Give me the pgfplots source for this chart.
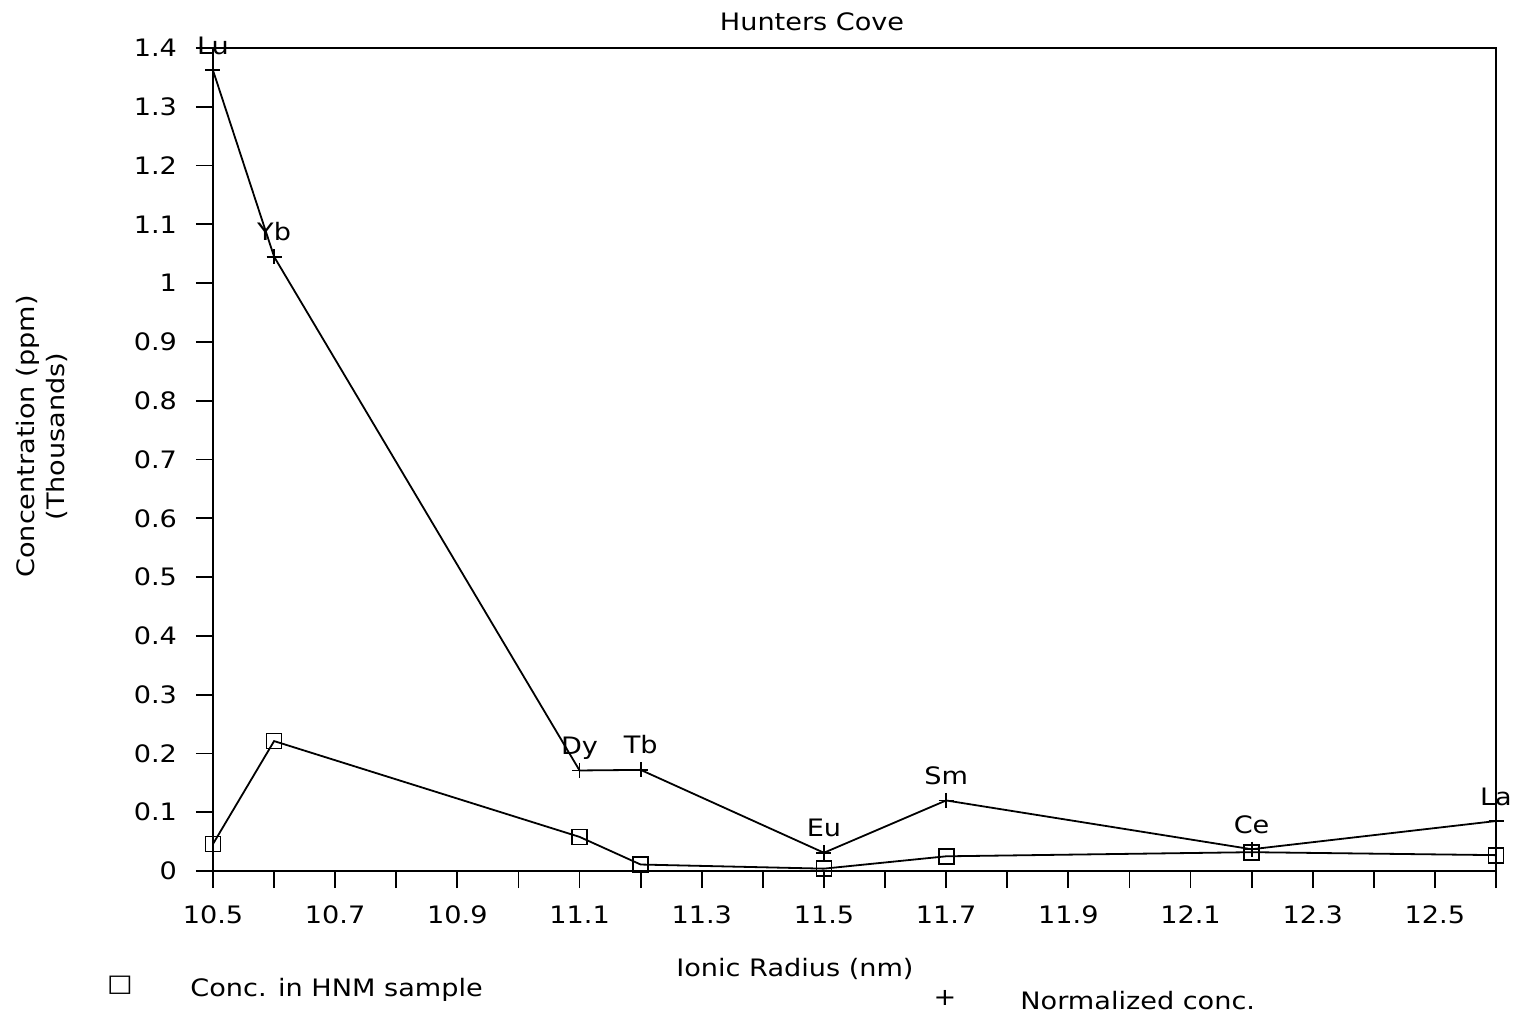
\documentclass[border=0pt]{standalone}
\usepackage{fontspec}
\setmainfont{DejaVu Sans}[FakeStretch=1.13]
\usepackage{pgfplots}
\pgfplotsset{compat=1.18}
\usepackage{pgfplotstable}

% Concentration in the HNM sample (thousands of ppm)
\pgfplotstableread{
x    y
10.5 0.046
10.6 0.221
11.1 0.058
11.2 0.011
11.5 0.004
11.7 0.025
12.2 0.032
12.6 0.027
}\hnmdata

% Normalized concentration, labelled by element
\pgfplotstableread{
x    y     lab
10.5 1.362 Lu
10.6 1.045 Yb
11.1 0.171 Dy
11.2 0.172 Tb
11.5 0.031 Eu
11.7 0.120 Sm
12.2 0.037 Ce
12.6 0.085 La
}\normdata

\begin{document}
\begin{tikzpicture}[font=\fontsize{12}{15}\selectfont]
\useasboundingbox (-106.5pt,-75.5pt) rectangle (651pt,435.5pt);
\begin{axis}[
  at={(0pt,0pt)}, anchor=south west,
  scale only axis, width=641.5pt, height=411.5pt,
  xmin=10.5, xmax=12.6, ymin=0, ymax=1.4,
  clip=false,
  axis line style={line width=0.9pt},
  tick style={line width=0.9pt, black},
  tick align=outside, tick pos=left,
  major tick length=8.5pt, minor tick length=8.5pt,
  xtick={10.5,10.7,10.9,11.1,11.3,11.5,11.7,11.9,12.1,12.3,12.5},
  minor xtick={10.6,10.8,11.0,11.2,11.4,11.6,11.8,12.0,12.2,12.4,12.6},
  xticklabels={10.5,10.7,10.9,11.1,11.3,11.5,11.7,11.9,12.1,12.3,12.5},
  ytick={0,0.1,0.2,0.3,0.4,0.5,0.6,0.7,0.8,0.9,1,1.1,1.2,1.3,1.4},
  yticklabels={0,0.1,0.2,0.3,0.4,0.5,0.6,0.7,0.8,0.9,1,1.1,1.2,1.3,1.4},
  xticklabel style={yshift=-5.5pt},
  yticklabel style={xshift=-6pt},
  title={Hunters Cove},
  title style={at={(axis description cs:0.4669,1)}, anchor=center, yshift=7pt},
  xlabel={Ionic Radius (nm)},
  xlabel style={at={(axis description cs:0.4536,0)}, anchor=center, yshift=-49pt},
  ylabel={Concentration (ppm)\\(Thousands)},
  ylabel style={at={(axis description cs:-0.1333,0.528)}, anchor=center, align=center},
]
\addplot[black, line width=0.9pt, mark=square, mark size=3.75pt,
  mark options={solid, fill=white}]
  table[x=x, y=y] {\hnmdata};
\addplot[black, line width=0.9pt, mark=+, mark size=3.75pt,
  mark options={solid},
  nodes near coords, point meta=explicit symbolic,
  nodes near coords style={anchor=base, inner sep=0pt, yshift=8pt, black}]
  table[x=x, y=y, meta=lab] {\normdata};
\end{axis}
% legend
\node[anchor=center] at (-46.5pt,-57pt) {□};
\node[anchor=west, inner sep=0pt] at (-11.5pt,-59.5pt) {Conc. in HNM sample};
\node[anchor=center] at (366pt,-63.5pt) {+};
\node[anchor=west, inner sep=0pt] at (403.5pt,-65pt) {Normalized conc.};
\end{tikzpicture}
\end{document}
